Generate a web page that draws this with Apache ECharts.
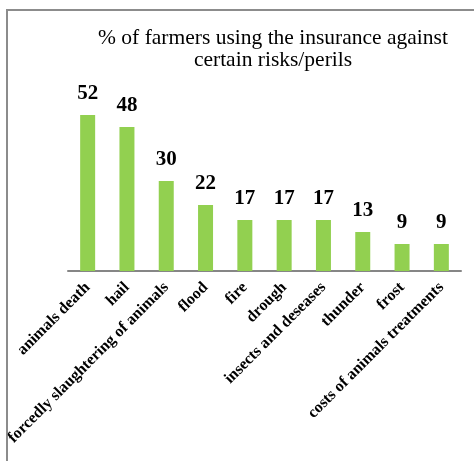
<!DOCTYPE html>
<html>
<head>
<meta charset="utf-8">
<script src="https://cdn.jsdelivr.net/npm/echarts@6/dist/echarts.min.js"></script>
<style>
html,body{margin:0;padding:0;background:#fff;}
#chart{width:474px;height:461px;}
</style>
</head>
<body>
<div id="chart"></div>
<script>
const titleText = "% of farmers using the insurance against\ncertain risks/perils";
const categories = ["animals death","hail","forcedly slaughtering of animals","flood","fire","drough","insects and deseases","thunder","frost","costs of animals treatments"];
const values = [52,48,30,22,17,17,17,13,9,9];

const chart = echarts.init(document.getElementById('chart'), null, {renderer:'canvas'});
const serif = '"Liberation Serif","Times New Roman",serif';
chart.setOption({
  animation:false,
  backgroundColor:'#fff',
  title:{
    text:titleText,
    left:268, top:22, textAlign:'center',
    textStyle:{fontFamily:serif,fontWeight:'normal',fontSize:21.5,color:'#000',lineHeight:22}
  },
  graphic:[{
    type:'rect', shape:{x:7,y:10,width:480,height:470},
    style:{fill:'none',stroke:'#8c8c8c',lineWidth:2}, silent:true, z:-1
  }],
  grid:{left:68,right:13,top:91,bottom:190,containLabel:false},
  xAxis:{
    type:'category', data:categories,
    axisLine:{lineStyle:{color:'#868686',width:2}},
    axisTick:{show:false},
    axisLabel:{rotate:45,interval:0,margin:14,fontFamily:serif,fontWeight:'bold',fontSize:16,color:'#000'}
  },
  yAxis:{type:'value',min:0,max:60,show:false,splitLine:{show:false}},
  series:[{
    type:'bar', data:values, barWidth:15,
    itemStyle:{color:'#92D050'},
    label:{show:true,position:'top',distance:11,fontFamily:serif,fontWeight:'bold',fontSize:21,color:'#000'}
  }]
});
</script>
</body>
</html>
